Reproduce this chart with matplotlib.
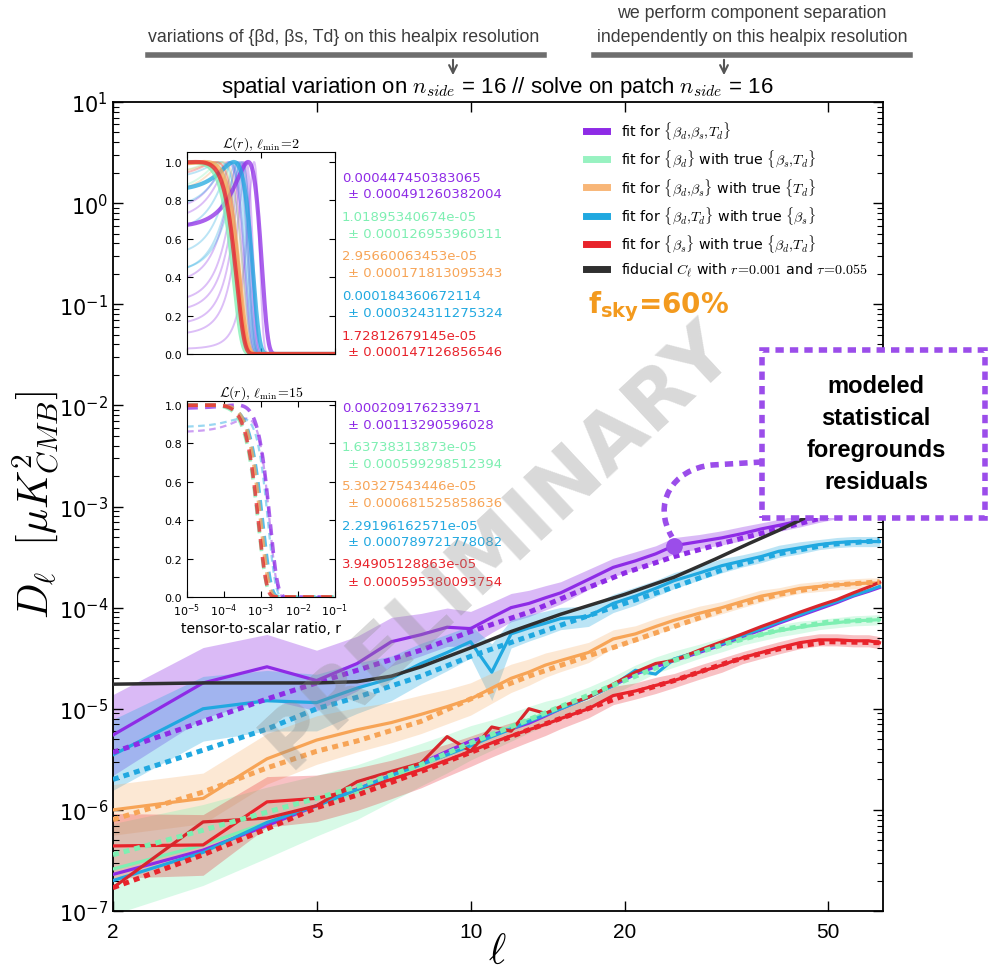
import numpy as np
import matplotlib
matplotlib.use('Agg')
import matplotlib.pyplot as plt
from matplotlib.patches import Rectangle, PathPatch, FancyArrowPatch
from matplotlib.path import Path
from matplotlib.font_manager import FontProperties, findfont
from matplotlib.lines import Line2D
from matplotlib.ticker import LogLocator, NullLocator, NullFormatter, FixedLocator

# ---------------- data ----------------
ell = [2, 3, 4, 5, 6, 7, 8, 9, 10, 11, 12, 13, 14, 15, 17, 19, 21, 23, 25, 28,
       31, 34, 37, 40, 44, 48, 52, 56, 60, 63]
# total residuals (top group)
res_all = [5.5e-6, 1.8e-5, 2.6e-5, 1.9e-5, 2.8e-5, 4.6e-5, 5.4e-5, 6.4e-5, 6.2e-5, 8.0e-5,
           1.0e-4, 1.1e-4, 1.25e-4, 1.4e-4, 1.9e-4, 2.5e-4, 2.9e-4, 3.4e-4, 4.1e-4, 4.5e-4,
           4.9e-4, 5.4e-4, 6.0e-4, 6.5e-4, 7.2e-4, 8.0e-4, 8.7e-4, 9.3e-4, 9.8e-4, 1.02e-3]
res_dT = [3.5e-6, 1.0e-5, 1.2e-5, 1.15e-5, 1.6e-5, 2.0e-5, 2.8e-5, 3.6e-5, 4.6e-5, 2.3e-5,
          5.5e-5, 6.3e-5, 7.0e-5, 7.8e-5, 8.2e-5, 1.1e-4, 1.3e-4, 1.55e-4, 1.85e-4, 2.2e-4,
          2.6e-4, 2.9e-4, 3.2e-4, 3.6e-4, 3.9e-4, 4.2e-4, 4.4e-4, 4.5e-4, 4.5e-4, 4.5e-4]
res_ds = [1.0e-6, 1.3e-6, 3.2e-6, 4.9e-6, 6.2e-6, 7.3e-6, 8.8e-6, 1.05e-5, 1.25e-5, 1.6e-5,
          2.0e-5, 2.3e-5, 2.7e-5, 3.0e-5, 3.6e-5, 4.9e-5, 5.5e-5, 6.5e-5, 7.5e-5, 8.8e-5,
          1.0e-4, 1.15e-4, 1.3e-4, 1.4e-4, 1.55e-4, 1.62e-4, 1.68e-4, 1.72e-4, 1.75e-4, 1.75e-4]
res_d = [2.6e-7, 4.5e-7, 7.5e-7, 1.1e-6, 1.5e-6, 2.1e-6, 2.8e-6, 3.6e-6, 4.6e-6, 5.5e-6,
         6.6e-6, 7.8e-6, 9.0e-6, 1.0e-5, 1.3e-5, 1.7e-5, 2.2e-5, 2.7e-5, 3.1e-5, 3.7e-5,
         4.3e-5, 4.9e-5, 5.4e-5, 5.9e-5, 6.4e-5, 6.8e-5, 7.1e-5, 7.4e-5, 7.5e-5, 7.6e-5]
res_s = [4.4e-7, 4.5e-7, 1.2e-6, 1.3e-6, 1.6e-6, 2.0e-6, 2.5e-6, 3.1e-6, 3.8e-6, 4.6e-6,
         5.4e-6, 6.2e-6, 7.0e-6, 8.0e-6, 1.0e-5, 1.35e-5, 1.5e-5, 1.7e-5, 1.9e-5, 2.3e-5,
         2.7e-5, 3.2e-5, 3.6e-5, 4.0e-5, 4.5e-5, 4.8e-5, 4.8e-5, 4.7e-5, 4.7e-5, 4.5e-5]
# statistical residuals (bottom group)
stat_all = [2.3e-7, 4.0e-7, 7.0e-7, 1.1e-6, 1.6e-6, 2.2e-6, 2.9e-6, 3.8e-6, 4.8e-6, 5.5e-6,
            6.3e-6, 7.2e-6, 8.5e-6, 1.0e-5, 1.3e-5, 1.7e-5, 2.2e-5, 2.6e-5, 3.0e-5, 3.6e-5,
            4.3e-5, 5.2e-5, 6.0e-5, 7.0e-5, 8.3e-5, 9.7e-5, 1.12e-4, 1.3e-4, 1.45e-4, 1.58e-4]
stat_dT = [2.0e-7, 3.8e-7, 7.5e-7, 1.1e-6, 1.6e-6, 2.2e-6, 2.8e-6, 3.5e-6, 4.3e-6, 5.3e-6,
           6.3e-6, 7.5e-6, 8.7e-6, 1.0e-5, 1.3e-5, 1.7e-5, 2.4e-5, 2.2e-5, 3.1e-5, 3.7e-5,
           4.4e-5, 5.3e-5, 6.2e-5, 7.2e-5, 8.5e-5, 1.0e-4, 1.15e-4, 1.32e-4, 1.48e-4, 1.62e-4]
stat_s = [1.7e-7, 7.6e-7, 8.3e-7, 1.1e-6, 1.9e-6, 2.4e-6, 2.9e-6, 5.3e-6, 3.8e-6, 6.6e-6,
          6.0e-6, 1.0e-5, 9.0e-6, 1.05e-5, 1.3e-5, 1.75e-5, 2.3e-5, 2.8e-5, 3.0e-5, 3.8e-5,
          4.6e-5, 5.5e-5, 6.5e-5, 7.5e-5, 9.0e-5, 1.05e-4, 1.2e-4, 1.4e-4, 1.6e-4, 1.78e-4]
# band half-widths (dex)
band_all = [0.40, 0.35, 0.32, 0.30, 0.27, 0.24, 0.21, 0.19, 0.17, 0.15, 0.14, 0.13, 0.12, 0.11, 0.10,
            0.09, 0.09, 0.08, 0.08, 0.07, 0.07, 0.07, 0.06, 0.06, 0.06, 0.06, 0.06, 0.05, 0.05, 0.05]
band_dT = [0.35, 0.32, 0.30, 0.28, 0.25, 0.22, 0.20, 0.18, 0.16, 0.28, 0.14, 0.13, 0.12, 0.11, 0.10,
           0.09, 0.09, 0.08, 0.08, 0.07, 0.07, 0.06, 0.06, 0.06, 0.06, 0.05, 0.05, 0.05, 0.05, 0.05]
band_ds = [0.25, 0.25, 0.25, 0.24, 0.22, 0.20, 0.19, 0.17, 0.16, 0.15, 0.14, 0.13, 0.12, 0.11, 0.10,
           0.09, 0.08, 0.08, 0.07, 0.07, 0.06, 0.06, 0.06, 0.05, 0.05, 0.05, 0.05, 0.05, 0.05, 0.05]
band_d = [0.45, 0.40, 0.35, 0.30, 0.27, 0.24, 0.21, 0.19, 0.17, 0.15, 0.14, 0.13, 0.12, 0.11, 0.10,
          0.09, 0.09, 0.08, 0.08, 0.07, 0.07, 0.06, 0.06, 0.06, 0.06, 0.05, 0.05, 0.05, 0.05, 0.05]
band_s = [0.32, 0.30, 0.25, 0.23, 0.21, 0.19, 0.18, 0.16, 0.15, 0.14, 0.13, 0.12, 0.11, 0.10, 0.09,
          0.09, 0.08, 0.08, 0.07, 0.07, 0.07, 0.06, 0.06, 0.06, 0.06, 0.06, 0.06, 0.06, 0.06, 0.06]
# modeled statistical residuals (dotted)
ell_m = [2, 3, 4, 5, 6, 8, 10, 13, 16, 20, 25, 32, 40, 50, 63]
mod_all = [3.7e-6, 7.5e-6, 1.25e-5, 1.8e-5, 2.4e-5, 3.8e-5, 5.8e-5, 9.0e-5, 1.4e-4, 2.2e-4, 3.2e-4, 4.5e-4, 6.0e-4, 8.0e-4, 1.0e-3]
mod_dT = [2.0e-6, 3.9e-6, 6.3e-6, 1.0e-5, 1.3e-5, 2.1e-5, 3.3e-5, 5.2e-5, 7.5e-5, 1.1e-4, 1.6e-4, 2.5e-4, 3.4e-4, 4.2e-4, 4.6e-4]
mod_ds = [8.0e-7, 1.5e-6, 2.6e-6, 3.8e-6, 4.8e-6, 7.5e-6, 1.25e-5, 2.1e-5, 3.0e-5, 4.4e-5, 6.5e-5, 1.0e-4, 1.35e-4, 1.65e-4, 1.8e-4]
mod_d = [3.6e-7, 6.3e-7, 9.5e-7, 1.3e-6, 1.7e-6, 2.8e-6, 4.6e-6, 7.8e-6, 1.2e-5, 1.9e-5, 3.0e-5, 4.5e-5, 6.0e-5, 7.2e-5, 7.6e-5]
mod_s = [1.7e-7, 3.6e-7, 6.5e-7, 1.05e-6, 1.4e-6, 2.4e-6, 3.7e-6, 6.2e-6, 9.0e-6, 1.35e-5, 1.9e-5, 2.9e-5, 3.9e-5, 4.6e-5, 4.5e-5]
# fiducial lensing + r=0.001
ell_f = [2, 3, 4, 5, 6, 7, 8, 10, 12, 15, 20, 25, 30, 35, 40, 45, 50, 55, 60, 64]
fiducial = [1.75e-5, 1.8e-5, 1.8e-5, 1.8e-5, 1.85e-5, 2.1e-5, 2.6e-5, 4.0e-5, 5.8e-5, 8.6e-5,
            1.35e-4, 2.0e-4, 3.0e-4, 4.3e-4, 5.8e-4, 7.7e-4, 1.0e-3, 1.25e-3, 1.5e-3, 1.7e-3]

# likelihood results: best-fit r and sigma (order: all, d, ds, dT, s)
r_best_2 = [0.000447450383065, 1.01895340674e-05, 2.95660063453e-05, 0.000184360672114, 1.72812679145e-05]
r_sig_2 = [0.000491260382004, 0.000126953960311, 0.000171813095343, 0.000324311275324, 0.000147126856546]
r_best_15 = [0.000209176233971, 1.63738313873e-05, 5.30327543446e-05, 2.29196162571e-05, 3.94905128863e-05]
r_sig_15 = [0.00113290596028, 0.000599298512394, 0.000681525858636, 0.000789721778082, 0.000595380093754]
# individual simulation likelihoods (r0, sigma) for lmin=2
sims_all = [(4.0e-4, 1.86e-4), (3.5e-4, 1.80e-4), (3.2e-4, 1.84e-4), (2.8e-4, 1.73e-4),
            (2.4e-4, 1.70e-4), (1.5e-4, 1.78e-4), (1.3e-4, 1.71e-4), (6.5e-4, 2.4e-4)]
sims_dT = [(2.5e-4, 1.9e-4), (2.2e-4, 1.9e-4), (1.8e-4, 1.9e-4), (1.4e-4, 1.9e-4), (8e-5, 1.9e-4), (3.0e-4, 2.3e-4)]
sims_d = [(8e-5, 1.4e-4), (5e-5, 1.4e-4), (3e-5, 1.4e-4)]
sims_ds = [(1.0e-4, 1.7e-4), (6e-5, 1.7e-4), (2e-5, 1.7e-4)]
sims_s = [(6e-5, 1.5e-4), (2e-5, 1.5e-4), (1e-5, 1.5e-4)]
sims15_all = [(4e-4, 1.0e-3)]
sims15_dT = [(3e-4, 9.5e-4)]

C_P = '#8E2BE6'
C_G = '#7EEFB2'
C_O = '#F7A456'
C_B = '#20A8E0'
C_R = '#E8232B'
C_K = '#2F2F2F'
colors = [C_P, C_G, C_O, C_B, C_R]

def has_font(name):
    try:
        findfont(FontProperties(family=name), fallback_to_default=False)
        return True
    except Exception:
        return False

NARROW = 'Liberation Sans Narrow' if has_font('Liberation Sans Narrow') else 'Liberation Sans'

W, H = 988, 978
fig = plt.figure(figsize=(W / 100, H / 100), dpi=100)

def fx(px):
    return px / W

def fy(py):
    return 1 - py / H

# ---------------- main axes ----------------
ax = fig.add_axes([fx(113), fy(912), fx(883) - fx(113), fy(103) - fy(912)])
ax.set_xscale('log')
ax.set_yscale('log')

e = np.array(ell)
for vals, bw, c, a in [(res_all, band_all, C_P, 0.32), (res_dT, band_dT, C_B, 0.30),
                       (res_ds, band_ds, C_O, 0.25), (res_d, band_d, C_G, 0.30),
                       (res_s, band_s, C_R, 0.28)]:
    v = np.array(vals)
    w = 10 ** np.array(bw)
    ax.fill_between(e, v / w, v * w, color=c, alpha=a, lw=0, zorder=1)

ax.plot(ell_f, fiducial, color=C_K, lw=2.5, zorder=4)

for vals, c in [(res_all, C_P), (res_dT, C_B), (res_ds, C_O)]:
    ax.plot(ell, vals, color=c, lw=2.3, zorder=3)
for vals, c in [(res_d, C_G), (res_s, C_R)]:
    ax.plot(ell, vals, color=c, lw=2.3, zorder=3)
for vals, c in [(stat_all, C_P), (stat_dT, C_B), (stat_s, '#D8262C')]:
    ax.plot(ell, vals, color=c, lw=2.3, zorder=3.5)

for vals, c in [(mod_all, C_P), (mod_dT, C_B), (mod_ds, C_O), (mod_d, C_G), (mod_s, C_R)]:
    ax.plot(ell_m, vals, color=c, lw=3.6, linestyle=(0, (1.2, 1.0)),
            dash_capstyle='butt', zorder=3.8)

ax.plot([ell[18]], [res_all[18]], 'o', color='#9B4DEA', ms=11, zorder=6)

ax.set_xlim(2, 64)
ax.set_ylim(1e-7, 10)
ax.xaxis.set_major_locator(FixedLocator([2, 5, 10, 20, 50]))
ax.xaxis.set_minor_locator(NullLocator())
ax.set_xticklabels(['2', '5', '10', '20', '50'], fontsize=15, family=NARROW)
ax.yaxis.set_major_locator(LogLocator(base=10, numticks=20))
ax.yaxis.set_minor_locator(LogLocator(base=10, subs=np.arange(2, 10), numticks=20))
ax.yaxis.set_minor_formatter(NullFormatter())
ax.tick_params(axis='y', which='major', labelsize=15)
ax.tick_params(which='both', direction='in', top=True, right=True)
ax.tick_params(which='major', length=7, width=1)
ax.tick_params(which='minor', length=4, width=0.8)
ax.tick_params(axis='x', pad=8)
for s in ax.spines.values():
    s.set_linewidth(1.3)

# legend
labels = [r'fit for $\{\beta_d,\!\beta_s,\!T_d\}$',
          r'fit for $\{\beta_d\}$ with true $\{\beta_s,\!T_d\}$',
          r'fit for $\{\beta_d,\!\beta_s\}$ with true $\{T_d\}$',
          r'fit for $\{\beta_d,\!T_d\}$ with true $\{\beta_s\}$',
          r'fit for $\{\beta_s\}$ with true $\{\beta_d,\!T_d\}$',
          r'fiducial $C_\ell$ with $r\!=\!0.001$ and $\tau\!=\!0.055$']
handles = [Line2D([], [], color=c, lw=5) for c in colors + [C_K]]
handles[2].set_alpha(0.8)
handles[1].set_alpha(0.8)
leg = ax.legend(handles, labels, loc='upper left', bbox_to_anchor=(fx(580), fy(115)),
                bbox_transform=fig.transFigure, frameon=False, handlelength=1.5,
                handletextpad=1.0, labelspacing=0.5, borderaxespad=0,
                prop=FontProperties(size=10.2, math_fontfamily='cm'))

fig.text(fx(588), fy(307), r'$\mathbf{f_{sky}}$=60%', fontsize=20, fontweight='bold',
         color='#F39A1E', ha='left', va='center', math_fontfamily='dejavusans', zorder=8)

# ---------------- inset likelihoods ----------------
rr = np.logspace(-5, -1, 600)

def like(r0, sig):
    return np.exp(-(rr - r0) ** 2 / (2 * sig ** 2))

ax1 = fig.add_axes([fx(187), fy(355), fx(335) - fx(187), fy(153) - fy(355)])
ax2 = fig.add_axes([fx(187), fy(598), fx(335) - fx(187), fy(402) - fy(598)])
for a in (ax1, ax2):
    a.set_xscale('log')
    a.set_xlim(1e-5, 1e-1)
    a.set_yticks([0, 0.2, 0.4, 0.6, 0.8, 1.0])
    a.set_yticklabels(['0.0', '0.2', '0.4', '0.6', '0.8', '1.0'], fontsize=8)
    a.tick_params(which='both', direction='in', top=True, right=True)
    a.tick_params(which='major', length=4)
    a.tick_params(which='minor', length=2)
ax1.set_ylim(0, 1.052)
ax2.set_ylim(0, 1.021)
ax1.set_xticklabels([])
ax1.xaxis.set_minor_formatter(NullFormatter())
ax2.xaxis.set_major_locator(LogLocator(base=10, numticks=10))
ax2.tick_params(axis='x', labelsize=8, pad=3)
ax2.xaxis.set_minor_formatter(NullFormatter())

for sims, c in [(sims_all, C_P), (sims_dT, C_B), (sims_d, C_G), (sims_ds, C_O), (sims_s, C_R)]:
    for r0, sg in sims:
        ax1.plot(rr, like(r0, sg), color=c, lw=1.4, alpha=0.3)
for i in [0, 3, 1, 2, 4]:
    ax1.plot(rr, like(r_best_2[i], r_sig_2[i]), color=colors[i], lw=3, alpha=0.75)

for sims, c in [(sims15_all, C_P), (sims15_dT, C_B)]:
    for r0, sg in sims:
        ax2.plot(rr, like(r0, sg) * 0.93, color=c, lw=1.6, alpha=0.45, ls=(0, (3, 2)))
for i in [0, 3, 1, 2, 4]:
    ax2.plot(rr, like(r_best_15[i], r_sig_15[i]), color=colors[i], lw=2.6, alpha=0.75,
             ls=(0, (3, 2)))

ax1.set_title(r'$\mathcal{L}(r),\,\ell_{\min}\!=\!2$', fontsize=10, pad=3, math_fontfamily='cm')
ax2.set_title(r'$\mathcal{L}(r),\,\ell_{\min}\!=\!15$', fontsize=10, pad=3, math_fontfamily='cm')
ax2.set_xlabel('tensor-to-scalar ratio, r', fontsize=10, labelpad=2)

txt_cols = [C_P, C_G, C_O, C_B, C_R]
for i in range(5):
    y0 = 178 + 39.5 * i
    fig.text(fx(342), fy(y0), '%.12g' % r_best_2[i], color=txt_cols[i], fontsize=9.5, va='center')
    fig.text(fx(348), fy(y0 + 17), '\u00b1 %.12g' % r_sig_2[i], color=txt_cols[i], fontsize=9.5, va='center')
    y1 = 409 + 39 * i
    fig.text(fx(342), fy(y1), '%.12g' % r_best_15[i], color=txt_cols[i], fontsize=9.5, va='center')
    fig.text(fx(348), fy(y1 + 17), '\u00b1 %.12g' % r_sig_15[i], color=txt_cols[i], fontsize=9.5, va='center')

# ---------------- labels / titles ----------------
fig.text(fx(36), fy(505), r'$D_\ell\ \ [\mu K^2_{CMB}]$', rotation=90, fontsize=30,
         ha='center', va='center', math_fontfamily='cm')
fig.text(fx(497), fy(952), r'$\ell$', fontsize=30, ha='center', va='center', math_fontfamily='cm')
fig.text(fx(497), fy(88), r'spatial variation on $n_{side}$ = 16 // solve on patch $n_{side}$ = 16',
         fontsize=16, ha='center', va='center', family=NARROW, math_fontfamily='cm')

ann_col = '#3C3C3C'
fig.text(fx(344), fy(37), 'variations of {\u03b2d, \u03b2s, Td} on this healpix resolution',
         fontsize=12.8, color=ann_col, ha='center', va='center', family=NARROW)
fig.text(fx(752), fy(14), 'we perform component separation',
         fontsize=12.8, color=ann_col, ha='center', va='center', family=NARROW)
fig.text(fx(752), fy(38), 'independently on this healpix resolution',
         fontsize=12.8, color=ann_col, ha='center', va='center', family=NARROW)
for x0, x1 in [(148, 544), (594, 910)]:
    fig.add_artist(Line2D([fx(x0), fx(x1)], [fy(56), fy(56)], color='#6E6E6E', lw=4,
                          transform=fig.transFigure))
for xa in (453, 724):
    fig.add_artist(FancyArrowPatch((fx(xa), fy(58)), (fx(xa), fy(79)), transform=fig.transFigure,
                                   arrowstyle='->', mutation_scale=14, color='#555555', lw=1.5))

# watermark
fig.text(fx(497), fy(545), 'PRELIMINARY', rotation=43, fontsize=58, fontweight='bold',
         color='#8C8C8C', alpha=0.33, ha='center', va='center', rotation_mode='anchor', zorder=20)

# annotation box
box_col = '#9B4DEA'
fig.add_artist(Rectangle((fx(762), fy(519)), fx(985) - fx(762), fy(351) - fy(519),
                         transform=fig.transFigure, facecolor='white', edgecolor=box_col,
                         lw=4, linestyle=(0, (1.5, 1.1)), zorder=10))
fig.text(fx(876), fy(435), 'modeled\nstatistical\nforegrounds\nresiduals', ha='center', va='center',
         fontsize=17, fontweight='bold', family='Liberation Sans', linespacing=1.5, zorder=11)
verts = [(fx(762), fy(463)), (fx(712), fy(466)), (fx(672), fy(470)), (fx(652), fy(505)),
         (fx(672), fy(538))]
codes = [Path.MOVETO, Path.LINETO, Path.CURVE4, Path.CURVE4, Path.CURVE4]
fig.add_artist(PathPatch(Path(verts, codes), transform=fig.transFigure, facecolor='none',
                         edgecolor=box_col, lw=4, linestyle=(0, (1.5, 1.1)), zorder=9))

fig.savefig('out.png', dpi=100)
